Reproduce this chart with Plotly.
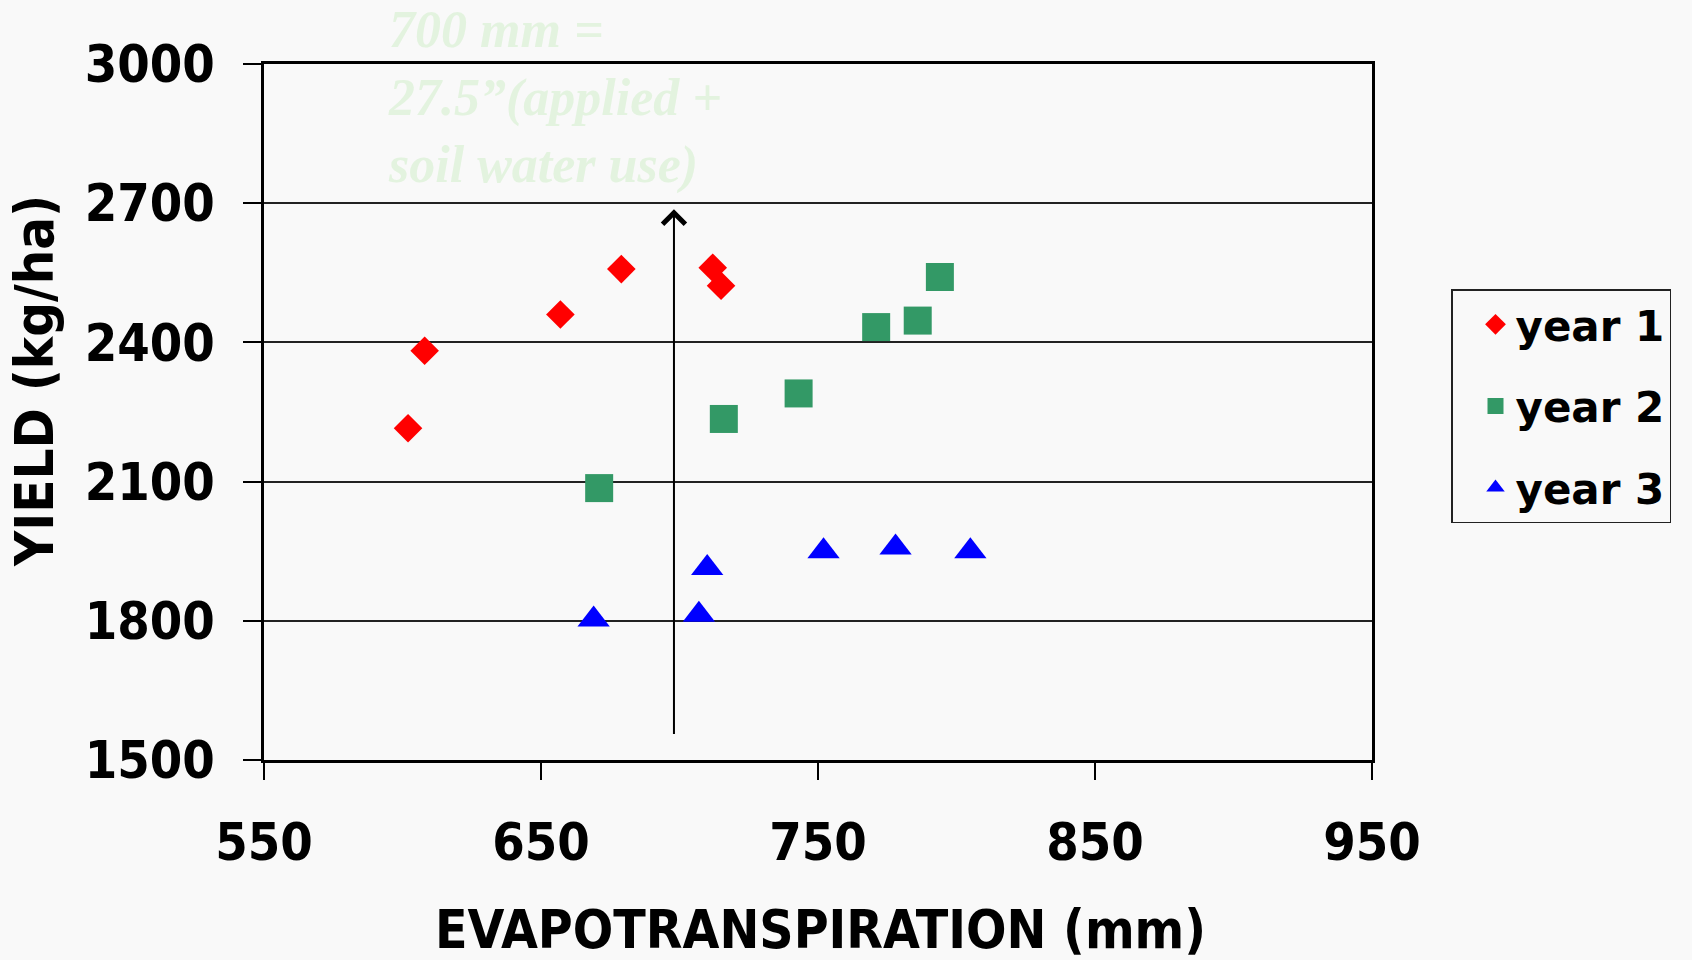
import plotly.graph_objects as go

# ---- data ----
series_names = ["year 1", "year 2", "year 3"]
year1_et = [602, 608, 657, 679, 712, 715]
year1_yield = [2215, 2382, 2460, 2558, 2561, 2522]
year2_et = [671, 716, 743, 771, 786, 794]
year2_yield = [2086, 2235, 2290, 2433, 2447, 2541]
year3_et = [669, 707, 710, 752, 778, 805]
year3_yield = [1803, 1813, 1914, 1950, 1958, 1950]

x_ticks = [550, 650, 750, 850, 950]
y_ticks = [1500, 1800, 2100, 2400, 2700, 3000]
arrow_et = 698
arrow_from_yield = 1553
arrow_to_yield = 2687

W, H = 1692, 960
L, R, T, B = 264, 1372, 64, 760

AX_FONT = dict(family="DejaVu Sans Condensed, Liberation Sans, sans-serif",
               size=52, color="black", weight="bold")

fig = go.Figure()
styles = [
    dict(symbol="diamond", size=22, color="#FF0000"),
    dict(symbol="square", size=28, color="#339966"),
    dict(symbol="triangle-up", size=28, color="#0000FF"),
]
for name, xs, ys, st in zip(series_names,
                            [year1_et, year2_et, year3_et],
                            [year1_yield, year2_yield, year3_yield],
                            styles):
    fig.add_trace(go.Scatter(
        x=xs, y=ys, mode="markers", name=name, legendgroup=name,
        marker=dict(symbol=st["symbol"], size=st["size"], color=st["color"],
                    line=dict(width=0)),
    ))

fig.update_layout(
    width=W, height=H,
    margin=dict(l=L, r=W - R, t=T, b=H - B),
    paper_bgcolor="#f9f9f9",
    plot_bgcolor="#f9f9f9",
    showlegend=True,
    legend=dict(
        x=(1451 - L) / (R - L), y=(B - 289) / (B - T),
        xanchor="left", yanchor="top",
        bgcolor="rgba(0,0,0,0)", bordercolor="#222222", borderwidth=1.5,
        font=dict(family="DejaVu Sans, Verdana, sans-serif", size=42,
                  color="black", weight="bold"),
        tracegroupgap=24, indentation=23,
        entrywidth=200, entrywidthmode="pixels",
        itemsizing="trace",
    ),
    xaxis=dict(
        range=[550, 950], tickvals=x_ticks, ticktext=[str(v) for v in x_ticks],
        showgrid=False, zeroline=False,
        showline=True, linecolor="black", linewidth=2.5, mirror=True,
        ticks="outside", ticklen=17, tickwidth=1.5, tickcolor="black",
        tickfont=AX_FONT, ticklabelstandoff=18,
    ),
    yaxis=dict(
        range=[1500, 3000], tickvals=y_ticks, ticktext=[str(v) for v in y_ticks],
        showgrid=True, gridcolor="#222222", gridwidth=1.5, zeroline=False,
        showline=True, linecolor="black", linewidth=2.5, mirror=True,
        ticks="outside", ticklen=18, tickwidth=1.5, tickcolor="black",
        tickfont=AX_FONT, ticklabelstandoff=18,
    ),
)

# arrow marking 700 mm
fig.add_annotation(
    x=arrow_et, y=arrow_to_yield, ax=arrow_et, ay=arrow_from_yield,
    xref="x", yref="y", axref="x", ayref="y",
    text="", showarrow=True, arrowhead=4, arrowsize=2.2, arrowwidth=2,
    arrowcolor="black",
)

# faint note text
fig.add_annotation(
    x=(386 - L) / (R - L), y=(B + 1) / (B - T), xref="paper", yref="paper",
    xanchor="left", yanchor="top", align="left", showarrow=False,
    text="700 mm =<br>27.5\u201d(applied +<br>soil water use)",
    font=dict(family="Liberation Serif, Times New Roman, serif", size=52,
              color="#e3f3df", weight="bold", style="italic"),
)

# axis titles
fig.add_annotation(
    x=(820 - L) / (R - L), y=(B - 929) / (B - T), xref="paper", yref="paper",
    xanchor="center", yanchor="middle", showarrow=False,
    text="EVAPOTRANSPIRATION (mm)", font=dict(AX_FONT, size=53),
)
fig.add_annotation(
    x=(34 - L) / (R - L), y=(B - 381) / (B - T), xref="paper", yref="paper",
    xanchor="center", yanchor="middle", showarrow=False, textangle=-90,
    text="YIELD (kg/ha)", font=dict(AX_FONT, size=54),
)

fig.write_html("out.html", config={"displayModeBar": False},
               post_script="document.body.style.margin='0';")
